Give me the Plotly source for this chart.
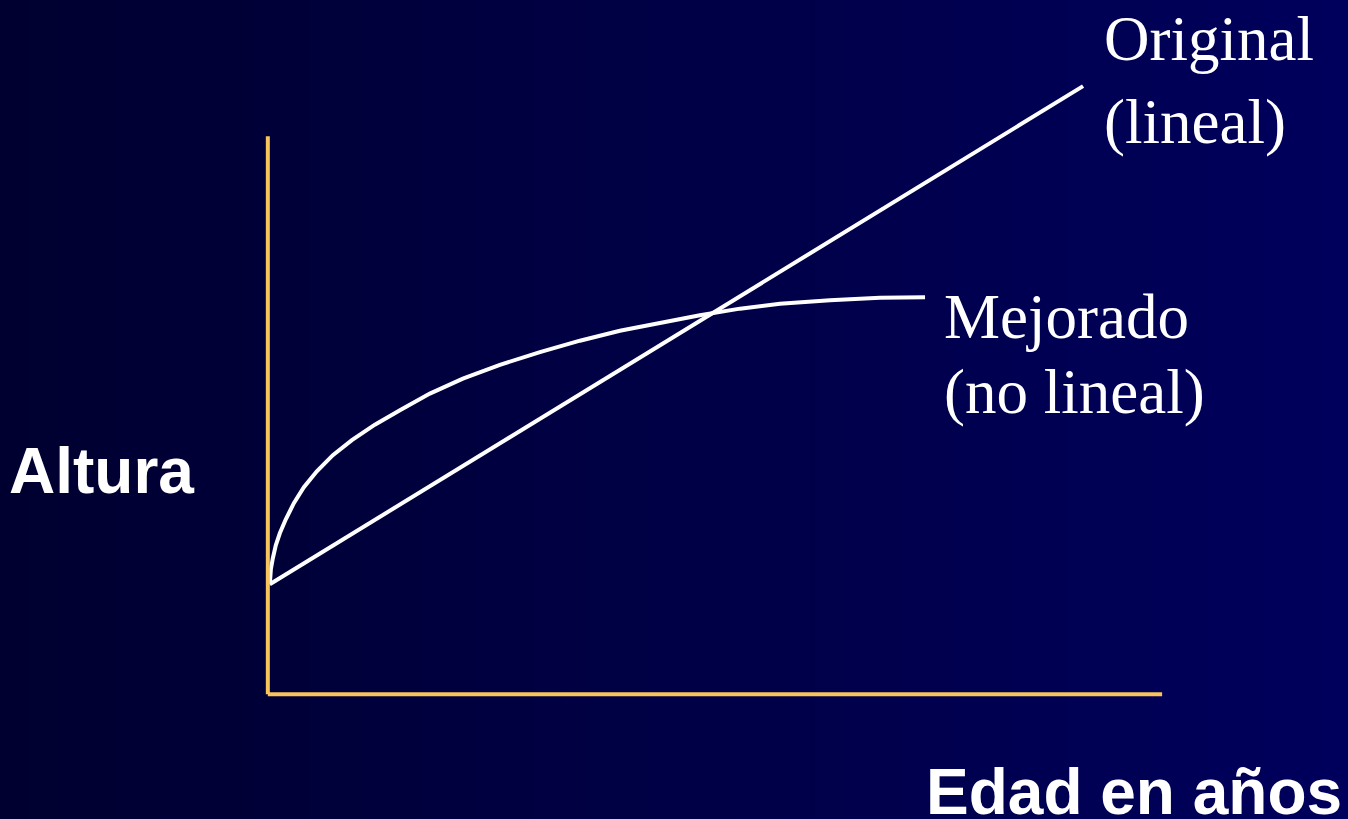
import plotly.graph_objects as go

# ---- data (arbitrary units) ----
orig_x = [0.022, 9.116]
orig_y = [1.971, 10.896]

mej_x = [0.022, 0.034, 0.056, 0.089, 0.134, 0.201, 0.291, 0.403, 0.548, 0.727, 0.940,
         1.197, 1.477, 1.812, 2.181, 2.595, 3.043, 3.490, 3.937, 4.385, 4.832, 5.280,
         5.727, 6.286, 6.846, 7.349]
mej_y = [1.971, 2.240, 2.437, 2.670, 2.885, 3.136, 3.423, 3.710, 3.996, 4.283, 4.552,
         4.830, 5.090, 5.387, 5.654, 5.903, 6.129, 6.335, 6.514, 6.658, 6.792, 6.909,
         6.998, 7.061, 7.106, 7.115]

axis_x_end = 10.0
axis_y_end = 10.0

W, H = 1348, 819
ML, MR, MT, MB = 241, 168, 58, 108
PW, PH = W - ML - MR, H - MT - MB


def px(x):
    return (x - ML) / PW


def py(y):
    return (H - MB - y) / PH


fig = go.Figure()
fig.add_trace(go.Scatter(x=orig_x, y=orig_y, mode="lines",
                         line=dict(color="white", width=4), hoverinfo="skip"))
fig.add_trace(go.Scatter(x=mej_x, y=mej_y, mode="lines",
                         line=dict(color="white", width=4, shape="linear"),
                         hoverinfo="skip"))

shapes = []
# background gradient (horizontal), drawn as stripes
n = 48
c0, c1 = 48, 92
for i in range(n):
    b = round(c0 + (c1 - c0) * i / (n - 1))
    shapes.append(dict(type="rect", xref="paper", yref="paper",
                       x0=px(W * i / n), x1=px(W * (i + 1) / n) + 0.002,
                       y0=py(H + 2), y1=py(-2), line=dict(width=0),
                       fillcolor=f"rgb(0,0,{b})", layer="below"))
# axes
orange = "#F9C45C"
shapes.append(dict(type="line", xref="x", yref="y", x0=0, x1=0, y0=0, y1=axis_y_end,
                   line=dict(color=orange, width=4)))
shapes.append(dict(type="line", xref="x", yref="y", x0=0, x1=axis_x_end, y0=0, y1=0,
                   line=dict(color=orange, width=4)))

serif = "Liberation Serif, Times New Roman, serif"
sans = "Liberation Sans, Arial, sans-serif"


def ann(text, x, y, font, size, bold=False):
    return dict(text=f"<b>{text}</b>" if bold else text, xref="paper", yref="paper",
                x=px(x), y=py(y), xanchor="left", yanchor="middle", showarrow=False,
                font=dict(family=font, size=size, color="white"))


annotations = [
    ann("Original", 1102, 39, serif, 63),
    ann("(lineal)", 1102, 122, serif, 63),
    ann("Mejorado", 942, 317, serif, 63),
    ann("(no lineal)", 942, 392, serif, 63),
    ann("Altura", 7, 471, sans, 64, True),
    ann("Edad en años", 924, 792, sans, 64, True),
]

fig.update_layout(
    width=W, height=H,
    margin=dict(l=ML, r=MR, t=MT, b=MB, pad=0),
    paper_bgcolor="rgb(0,0,48)", plot_bgcolor="rgba(0,0,0,0)",
    showlegend=False,
    shapes=shapes, annotations=annotations,
    xaxis=dict(range=[-0.3, 10.2], showgrid=False, zeroline=False, showticklabels=False,
               showline=False, ticks="", fixedrange=True),
    yaxis=dict(range=[-0.3, 11.4], showgrid=False, zeroline=False, showticklabels=False,
               showline=False, ticks="", fixedrange=True),
)

fig.write_html("out.html", config=dict(displayModeBar=False),
               post_script="document.body.style.margin='0';document.body.style.background='rgb(0,0,48)';")
